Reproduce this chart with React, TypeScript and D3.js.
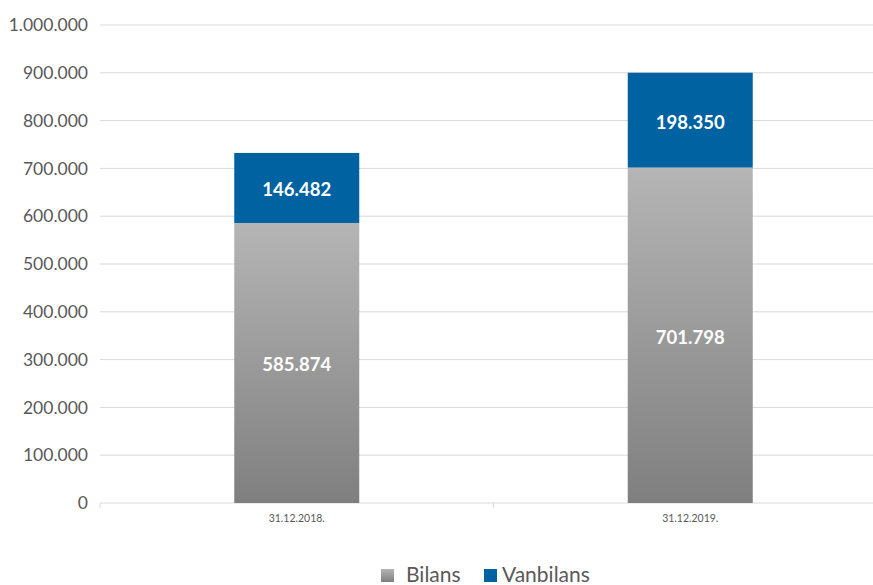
import * as d3 from "d3";

const categories = ["31.12.2018.", "31.12.2019."];
const bilans = [585874, 701798];
const vanbilans = [146482, 198350];
const yTicks = [0, 100000, 200000, 300000, 400000, 500000, 600000, 700000, 800000, 900000, 1000000];

const width = 873,
	height = 585;
const left = 100,
	right = 887,
	top = 25,
	bottom = 503;

const fmt = (v: number) => d3.format(",")(v).replace(/,/g, ".");
const font = "Lato, 'Open Sans', sans-serif";

export default function App() {
	const x = d3.scaleBand().domain(categories).range([left, right]);
	const y = d3.scaleLinear().domain([0, 1000000]).range([bottom, top]);
	const barW = 125;

	return (
		<svg width={width} height={height} style={{ position: "absolute", left: 0, top: 0 }}>
			<defs>
				<linearGradient id="gray" x1="0" y1="0" x2="0" y2="1">
					<stop offset="0" stopColor="#b5b5b5" />
					<stop offset="1" stopColor="#7f7f7f" />
				</linearGradient>
			</defs>
			{yTicks.map((t) => (
				<g key={t}>
					<line x1={left} x2={right} y1={y(t)} y2={y(t)} stroke="#d9d9d9" strokeWidth={1} />
					<text x={88} y={y(t)} dy="0.35em" textAnchor="end" fontFamily={font} fontSize={17.5} fill="#595959">
						{fmt(t)}
					</text>
				</g>
			))}
			{[left, left + x.bandwidth(), right].map((p, i) => (
				<line key={i} x1={p} x2={p} y1={bottom} y2={bottom + 5} stroke="#d9d9d9" />
			))}
			{categories.map((c, i) => {
				const cx = (x(c) ?? 0) + x.bandwidth() / 2;
				const b = bilans[i];
				const v = vanbilans[i];
				return (
					<g key={c}>
						<rect x={cx - barW / 2} width={barW} y={y(b)} height={y(0) - y(b)} fill="url(#gray)" />
						<rect x={cx - barW / 2} width={barW} y={y(b + v)} height={y(b) - y(b + v)} fill="#0062a1" />
						<text x={cx} y={(y(0) + y(b)) / 2 + 2} dy="0.35em" textAnchor="middle" fontFamily={font} fontWeight="bold" fontSize={18.5} fill="#fff">
							{fmt(b)}
						</text>
						<text x={cx} y={(y(b) + y(b + v)) / 2 + 2} dy="0.35em" textAnchor="middle" fontFamily={font} fontWeight="bold" fontSize={18.5} fill="#fff">
							{fmt(v)}
						</text>
						<text x={cx} y={522} textAnchor="middle" fontFamily={font} fontSize={10.5} fill="#595959">
							{c}
						</text>
					</g>
				);
			})}
			<g fontFamily={font} fontSize={21} fill="#595959">
				<rect x={381} y={569} width={13} height={13} fill="url(#gray)" />
				<text x={406} y={582}>Bilans</text>
				<rect x={484} y={569} width={13} height={13} fill="#0062a1" />
				<text x={502} y={582}>Vanbilans</text>
			</g>
		</svg>
	);
}
